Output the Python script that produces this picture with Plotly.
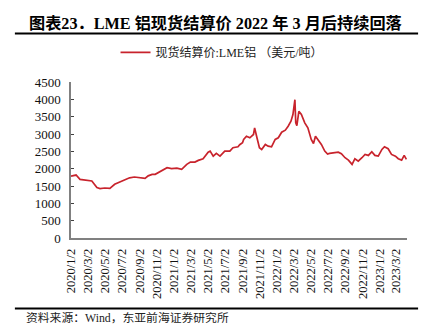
import plotly.graph_objects as go

dates = [
    "2020-01-02", "2020-01-20", "2020-02-03", "2020-03-02", "2020-03-16", "2020-04-03",
    "2020-04-14", "2020-05-01", "2020-05-19", "2020-06-05", "2020-06-23", "2020-07-10",
    "2020-07-28", "2020-08-14", "2020-09-02", "2020-09-21", "2020-10-02", "2020-10-16",
    "2020-10-27", "2020-11-20", "2020-12-08", "2020-12-24", "2021-01-12", "2021-01-29",
    "2021-02-16", "2021-03-01", "2021-03-17", "2021-03-29", "2021-04-15", "2021-05-03",
    "2021-05-10", "2021-05-21", "2021-06-01", "2021-06-14", "2021-07-01", "2021-07-19",
    "2021-07-30", "2021-08-17", "2021-08-23", "2021-09-02", "2021-09-06", "2021-09-16",
    "2021-09-28", "2021-10-11", "2021-10-15", "2021-10-22", "2021-11-01", "2021-11-09",
    "2021-11-22", "2021-12-02", "2021-12-14", "2021-12-27", "2022-01-07", "2022-01-19",
    "2022-02-01", "2022-02-11", "2022-02-21", "2022-02-28", "2022-03-07", "2022-03-10",
    "2022-03-14", "2022-03-21", "2022-03-30", "2022-04-11", "2022-04-22", "2022-05-04",
    "2022-05-12", "2022-05-19", "2022-05-27", "2022-06-09", "2022-06-21", "2022-07-01",
    "2022-07-08", "2022-07-20", "2022-08-08", "2022-08-19", "2022-09-01", "2022-09-13",
    "2022-09-26", "2022-10-06", "2022-10-18", "2022-10-31", "2022-11-11", "2022-11-23",
    "2022-12-05", "2022-12-16", "2022-12-28", "2023-01-10", "2023-01-19", "2023-02-01",
    "2023-02-13", "2023-02-27", "2023-03-09", "2023-03-21", "2023-03-30", "2023-04-07",
]
prices = [
    1787, 1816, 1692, 1672, 1644, 1454,
    1425, 1442, 1434, 1549, 1606, 1664,
    1736, 1759, 1750, 1721, 1793, 1836,
    1836, 1960, 2029, 2000, 2017, 1980,
    2124, 2190, 2190, 2239, 2287, 2477,
    2506, 2362, 2440, 2362, 2506, 2506,
    2604, 2632, 2690, 2747, 2842, 2937,
    2891, 2986, 3178, 2937, 2604, 2555,
    2698, 2650, 2632, 2842, 2891, 3052,
    3109, 3224, 3368, 3561, 3990, 3322,
    3240, 3655, 3561, 3322, 3178, 2842,
    2727, 2937, 2842, 2698, 2506, 2420,
    2440, 2460, 2477, 2431, 2316, 2247,
    2124, 2287, 2218, 2316, 2411, 2382,
    2489, 2382, 2362, 2555, 2632, 2575,
    2411, 2362, 2287, 2247, 2382, 2267,
]

tick_dates = [
    "2020-01-02", "2020-03-02", "2020-05-02", "2020-07-02", "2020-09-02", "2020-11-02",
    "2021-01-02", "2021-03-02", "2021-05-02", "2021-07-02", "2021-09-02", "2021-11-02",
    "2022-01-02", "2022-03-02", "2022-05-02", "2022-07-02", "2022-09-02", "2022-11-02",
    "2023-01-02", "2023-03-02",
]
tick_labels = [
    "2020/1/2", "2020/3/2", "2020/5/2", "2020/7/2", "2020/9/2", "2020/11/2",
    "2021/1/2", "2021/3/2", "2021/5/2", "2021/7/2", "2021/9/2", "2021/11/2",
    "2022/1/2", "2022/3/2", "2022/5/2", "2022/7/2", "2022/9/2", "2022/11/2",
    "2023/1/2", "2023/3/2",
]
y_ticks = [0, 500, 1000, 1500, 2000, 2500, 3000, 3500, 4000, 4500]

series_name = "现货结算价:LME铝 （美元/吨）"
title_text = "<b>图表23．LME 铝现货结算价 2022 年 3 月后持续回落</b>"
source_text = "资料来源：Wind，东亚前海证券研究所"

serif = "'Liberation Serif', 'Times New Roman', 'Noto Sans CJK SC', serif"
cjk = "'Liberation Serif', 'Noto Sans CJK SC', serif"

fig = go.Figure()
fig.add_trace(go.Scatter(
    x=dates, y=prices, mode="lines", name=series_name,
    line=dict(color="#C8232C", width=1.7),
))

fig.update_layout(
    width=435, height=336,
    margin=dict(l=71, r=28, t=82, b=98),
    paper_bgcolor="white", plot_bgcolor="white",
    showlegend=True,
    legend=dict(
        orientation="h", x=0.448, xanchor="center", y=1.19, yanchor="middle",
        font=dict(family=cjk, size=12, color="#222"),
        bgcolor="rgba(0,0,0,0)", itemwidth=30,
    ),
    xaxis=dict(
        type="date", range=["2020-01-02", "2023-04-09"],
        tickvals=tick_dates, ticktext=tick_labels, tickangle=-90,
        showline=True, linecolor="#808080", linewidth=1.5,
        showgrid=False, zeroline=False, ticks="",
        tickfont=dict(family=serif, size=12.5, color="#111"),
        ticklabelstandoff=4,
    ),
    yaxis=dict(
        range=[0, 4500], tickvals=y_ticks,
        showline=True, linecolor="#808080", linewidth=1.5,
        showgrid=False, zeroline=False, ticks="inside", ticklen=3,
        tickcolor="#404040",
        tickfont=dict(family=serif, size=13, color="#111"),
        ticklabelstandoff=6,
    ),
    shapes=[
        dict(type="line", xref="paper", yref="paper", x0=-0.167, x1=1.033,
             y0=1.311, y1=1.311, line=dict(color="black", width=2)),
        dict(type="line", xref="paper", yref="paper", x0=-0.167, x1=1.033,
             y0=-0.452, y1=-0.452, line=dict(color="black", width=2)),
    ],
    annotations=[
        dict(text=title_text, xref="paper", yref="paper", x=-0.131, y=1.375,
             xanchor="left", yanchor="middle", showarrow=False,
             font=dict(family=cjk, size=16.2, color="black")),
        dict(text=source_text, xref="paper", yref="paper", x=-0.14, y=-0.515,
             xanchor="left", yanchor="middle", showarrow=False,
             font=dict(family=cjk, size=11.8, color="#222")),
    ],
)

fig.write_html("out.html")
